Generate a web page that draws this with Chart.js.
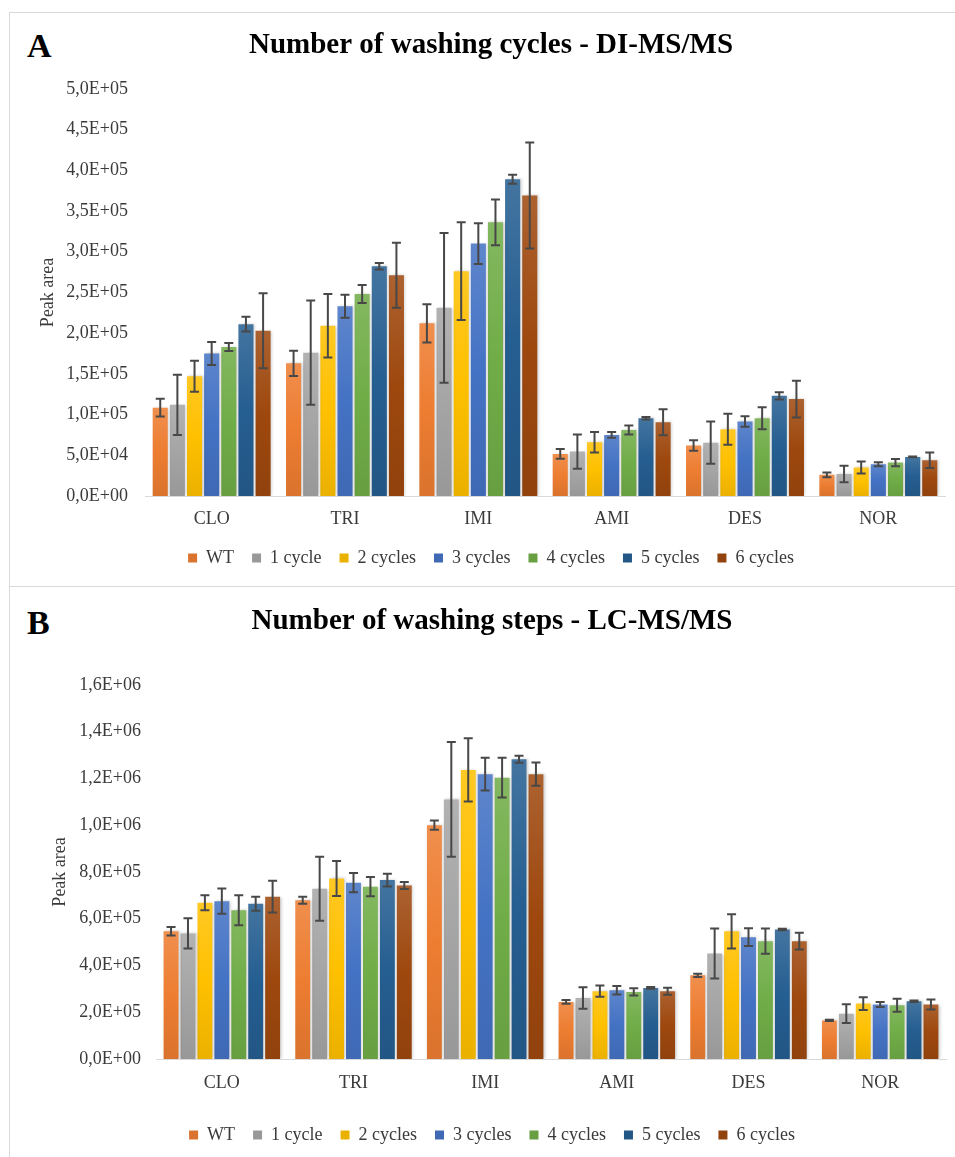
<!DOCTYPE html>
<html>
<head>
<meta charset="utf-8">
<script src="https://cdn.jsdelivr.net/npm/chart.js@4.4.1/dist/chart.umd.min.js"></script>
<style>
  body { margin: 0; background: #fff; width: 955px; height: 1157px; overflow: hidden; position: relative; }
  .panel { position: absolute; left: 9px; width: 960px; border: 1px solid #d9d9d9; box-sizing: border-box; }
  .tag { position: absolute; left: 27px; font: bold 34px/34px 'Liberation Serif', 'Times New Roman', serif; color: #000; }
  canvas { position: absolute; left: 9px; }
</style>
</head>
<body>
<div class="panel" style="top:12px;height:575px;"></div>
<div class="panel" style="top:586px;height:600px;"></div>
<div class="tag" style="top:29px;">A</div>
<div class="tag" style="top:606px;">B</div>
<canvas id="chartA" width="946" height="575" style="top:12px;"></canvas>
<canvas id="chartB" width="946" height="570" style="top:587px;"></canvas>
<script>
const categories = ['CLO', 'TRI', 'IMI', 'AMI', 'DES', 'NOR'];
const seriesNames = ['WT', '1 cycle', '2 cycles', '3 cycles', '4 cycles', '5 cycles', '6 cycles'];
const seriesColors = ['#ED7D31', '#A5A5A5', '#FFC000', '#4472C4', '#70AD47', '#255E91', '#9E480E'];

// A - DI-MS/MS, peak area means and error (sd)
const aWT = [108500, 163000, 212000, 51600, 62000, 26000];
const aWTErr = [11000, 15500, 23500, 6000, 6500, 3000];
const a1 = [112000, 176000, 231000, 54500, 65500, 27000];
const a1Err = [37000, 64000, 92000, 21000, 26000, 10000];
const a2 = [147000, 209000, 276000, 66000, 82000, 35000];
const a2Err = [19000, 39000, 60000, 12500, 19000, 7500];
const a3 = [175000, 233000, 310000, 75000, 91500, 39000];
const a3Err = [14000, 14000, 25000, 3500, 6500, 2500];
const a4 = [183000, 248000, 336000, 81000, 95500, 41000];
const a4Err = [5000, 11000, 28000, 5500, 13500, 4500];
const a5 = [211000, 282000, 389000, 95500, 123000, 48000];
const a5Err = [9000, 4000, 5500, 1500, 4500, 500];
const a6 = [203000, 271000, 369000, 90500, 119000, 44000];
const a6Err = [46000, 40000, 65000, 16000, 22500, 9500];

// B - LC-MS/MS
const bWT = [546000, 679000, 1000000, 244000, 358000, 165000];
const bWTErr = [18000, 15000, 20000, 8000, 7000, 3000];
const b1 = [537000, 728000, 1110000, 261000, 451000, 194000];
const b1Err = [65000, 137000, 245000, 46000, 107000, 40000];
const b2 = [668000, 772000, 1236000, 290000, 546000, 237000];
const b2Err = [32000, 75000, 135000, 24000, 73000, 27000];
const b3 = [675000, 754000, 1218000, 294000, 521000, 233000];
const b3Err = [54000, 41000, 70000, 18000, 38000, 11000];
const b4 = [636000, 737000, 1203000, 287000, 504000, 230000];
const b4Err = [64000, 41000, 85000, 16000, 54000, 28000];
const b5 = [664000, 765000, 1282000, 304000, 554000, 247000];
const b5Err = [30000, 27000, 15000, 4000, 3000, 3000];
const b6 = [694000, 742000, 1218000, 290000, 504000, 233000];
const b6Err = [68000, 15000, 50000, 15000, 36000, 21000];

Chart.defaults.font.family = "'Liberation Serif', 'Times New Roman', serif";
Chart.defaults.color = '#3a3a3a';

function mix(hex, target, t) {
  const n = parseInt(hex.slice(1), 16);
  const c = [(n >> 16) & 255, (n >> 8) & 255, n & 255].map(v => Math.round(v + (target - v) * t));
  return 'rgb(' + c.join(',') + ')';
}

// 5,0E+05 style labels
function sci(v) {
  if (v === 0) return '0,0E+00';
  const e = Math.floor(Math.log10(v) + 1e-9);
  const m = v / Math.pow(10, e);
  return m.toFixed(1).replace('.', ',') + 'E+' + String(e).padStart(2, '0');
}

function barFill(ctx) {
  const base = ctx.dataset.baseColor;
  const chart = ctx.chart;
  if (ctx.type !== 'data' || !chart.chartArea) return base;
  const y = chart.scales.y;
  const top = y.getPixelForValue(ctx.raw);
  const bottom = y.getPixelForValue(0);
  if (!isFinite(top) || !isFinite(bottom) || bottom - top < 1) return base;
  const g = chart.ctx.createLinearGradient(0, top, 0, bottom);
  g.addColorStop(0, mix(base, 255, 0.14));
  g.addColorStop(0.5, base);
  g.addColorStop(1, mix(base, 0, 0.08));
  return g;
}

// soft shadow behind bars, then error bars on top
const errorBars = {
  id: 'errorBars',
  beforeDatasetsDraw(chart) {
    const ctx = chart.ctx;
    ctx.save();
    ctx.shadowColor = 'rgba(0,0,0,0.2)';
    ctx.shadowBlur = 3;
    ctx.shadowOffsetX = 1.5;
  },
  afterDatasetsDraw(chart) {
    const ctx = chart.ctx;
    ctx.restore();
    const y = chart.scales.y;
    ctx.save();
    ctx.strokeStyle = '#484848';
    ctx.lineWidth = 2;
    chart.data.datasets.forEach((ds, i) => {
      const meta = chart.getDatasetMeta(i);
      meta.data.forEach((bar, j) => {
        const v = ds.data[j], e = ds.errors[j];
        const yTop = y.getPixelForValue(v + e);
        const yBot = y.getPixelForValue(v - e);
        const x = bar.x, cap = 4.5;
        ctx.beginPath();
        ctx.moveTo(x, yTop); ctx.lineTo(x, yBot);
        ctx.moveTo(x - cap, yTop); ctx.lineTo(x + cap, yTop);
        ctx.moveTo(x - cap, yBot); ctx.lineTo(x + cap, yBot);
        ctx.stroke();
      });
    });
    ctx.restore();
  }
};

function makeDatasets(values, errors) {
  return seriesNames.map((name, i) => ({
    label: name,
    data: values[i],
    errors: errors[i],
    baseColor: seriesColors[i],
    backgroundColor: barFill,
    borderWidth: 0,
    categoryPercentage: 0.9,
    barPercentage: 0.88,
  }));
}

function makeChart(id, title, datasets, cfg) {
  return new Chart(document.getElementById(id), {
    type: 'bar',
    data: { labels: categories, datasets: datasets },
    options: {
      responsive: false,
      animation: false,
      layout: { padding: cfg.padding },
      plugins: {
        title: {
          display: true,
          text: title,
          color: '#000',
          font: { size: 29, weight: 'bold' },
          padding: { top: cfg.titleTop, bottom: cfg.titleBottom },
        },
        legend: {
          position: 'bottom',
          labels: { boxWidth: 9, boxHeight: 9, padding: 18, color: '#3a3a3a', font: { size: 18 } },
        },
        tooltip: { enabled: false },
      },
      scales: {
        x: {
          grid: { display: false, drawTicks: false },
          border: { display: true, color: '#d9d9d9', width: 1 },
          ticks: { padding: cfg.xPad, font: { size: 18 }, color: '#3a3a3a' },
          afterFit: s => { s.height = cfg.xHeight; },
        },
        y: {
          min: 0,
          max: cfg.max,
          grid: { display: false, drawTicks: false },
          border: { display: false },
          ticks: { stepSize: cfg.step, padding: cfg.yPad, font: { size: 18 }, color: '#3a3a3a', callback: v => sci(v) },
          title: { display: true, text: 'Peak area', font: { size: 18 }, color: '#3a3a3a', padding: { top: cfg.yTitleTop, bottom: 0 } },
          afterFit: s => { s.width = cfg.yWidth; },
        },
      },
    },
    plugins: [errorBars],
  });
}

makeChart('chartA', 'Number of washing cycles - DI-MS/MS',
  makeDatasets([aWT, a1, a2, a3, a4, a5, a6], [aWTErr, a1Err, a2Err, a3Err, a4Err, a5Err, a6Err]),
  { padding: { left: 28, right: 10, top: 0, bottom: 10 }, titleTop: 16, titleBottom: 26,
    max: 500000, step: 50000, yPad: 17, yWidth: 108, yTitleTop: 0, xPad: 12, xHeight: 35 });

makeChart('chartB', 'Number of washing steps - LC-MS/MS',
  makeDatasets([bWT, b1, b2, b3, b4, b5, b6], [bWTErr, b1Err, b2Err, b3Err, b4Err, b5Err, b6Err]),
  { padding: { left: 29, right: 9, top: 0, bottom: 3 }, titleTop: 17, titleBottom: 46,
    max: 1600000, step: 200000, yPad: 15, yWidth: 118, yTitleTop: 11, xPad: 13, xHeight: 49 });
</script>
</body>
</html>
